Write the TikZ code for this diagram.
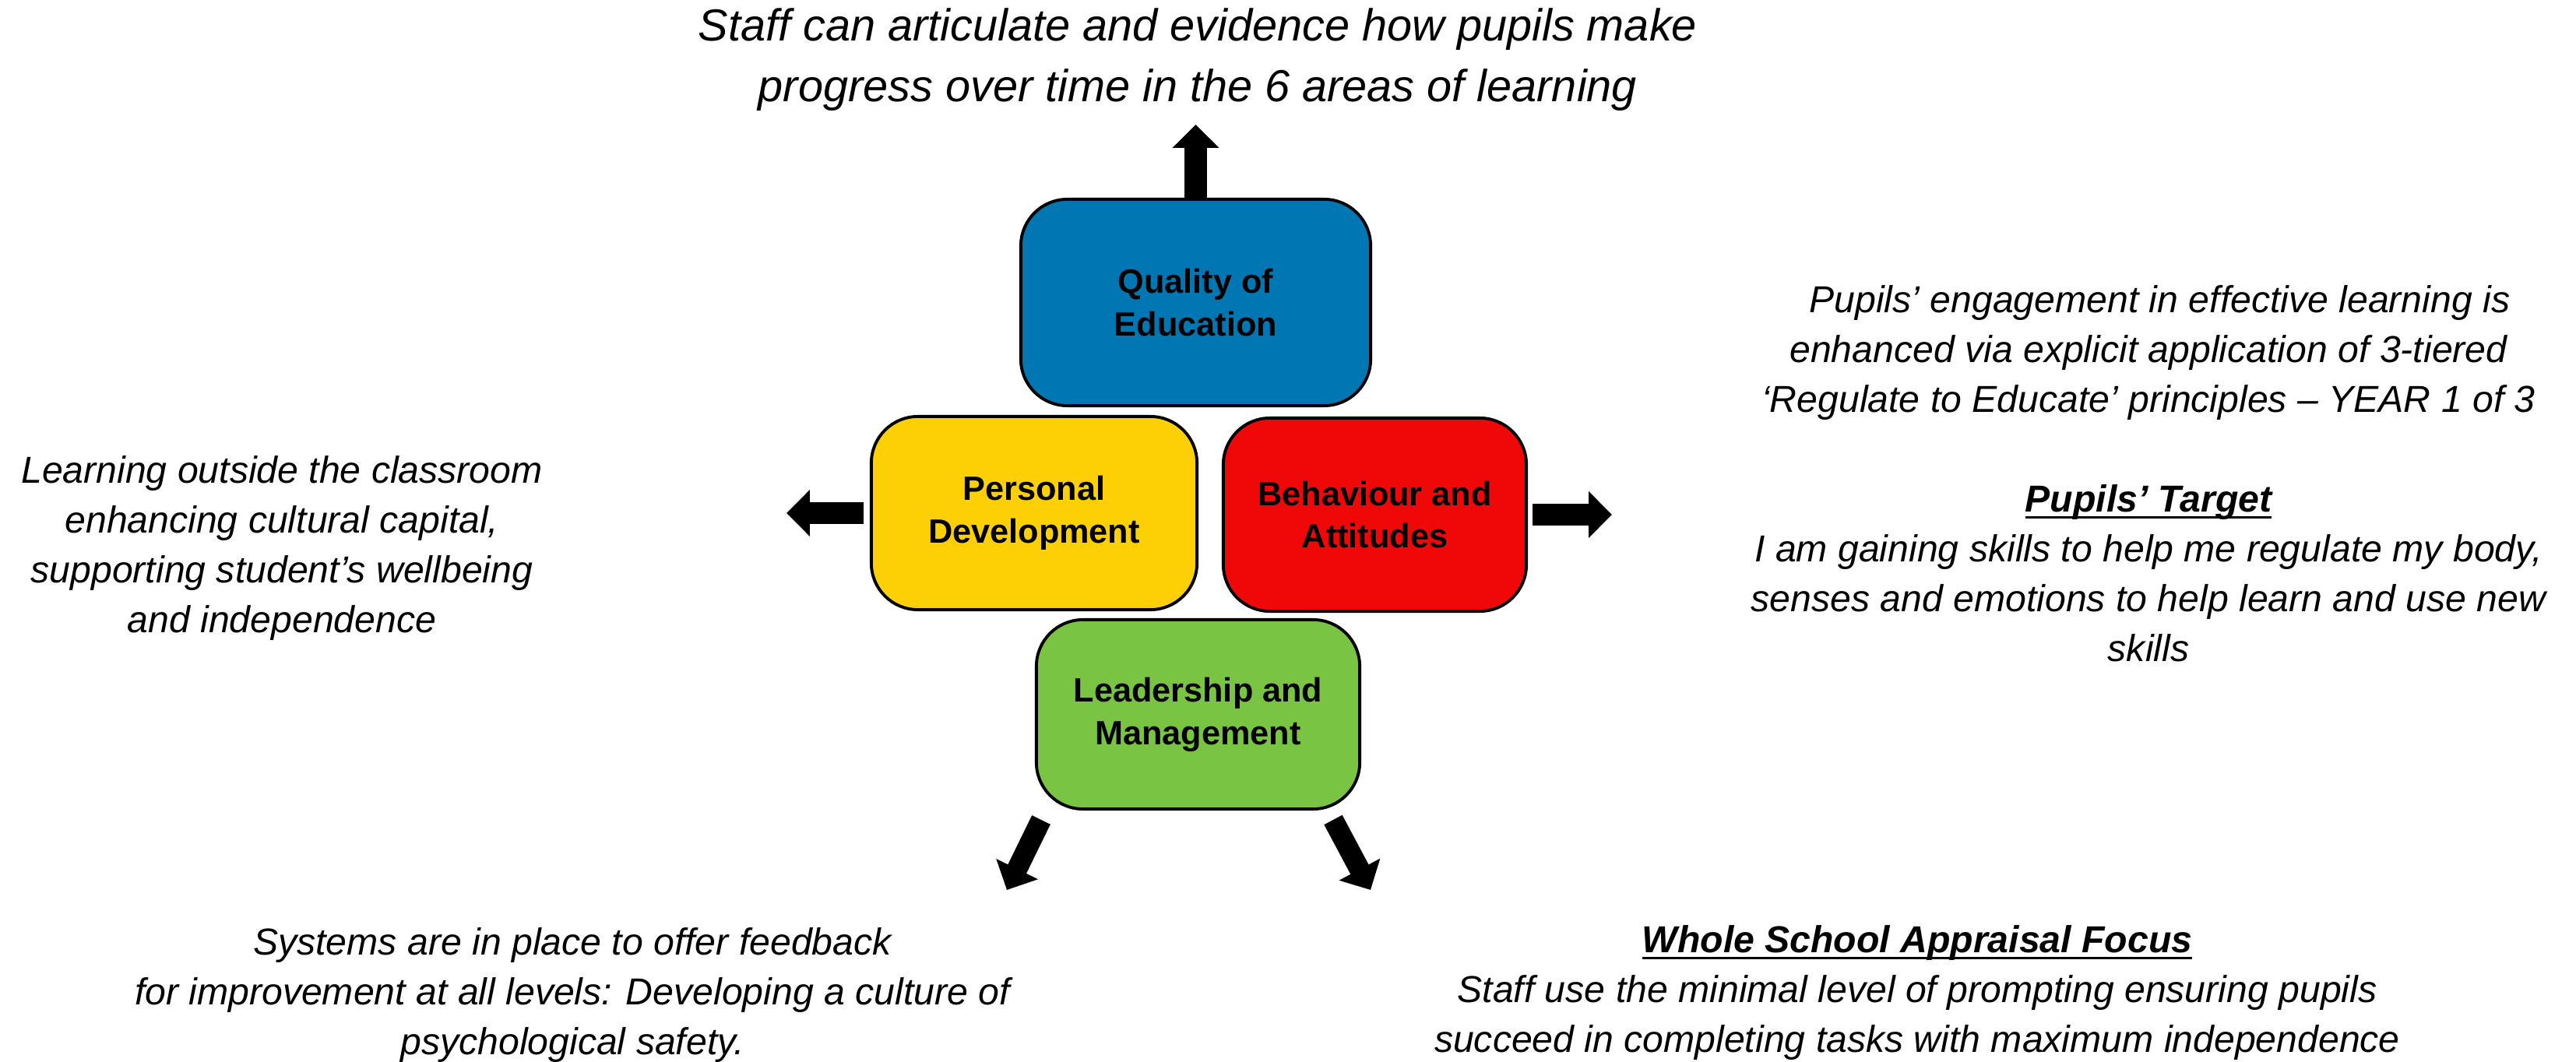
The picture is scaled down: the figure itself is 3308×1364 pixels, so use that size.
\documentclass[tikz,border=0pt]{standalone}
\usepackage{fontspec}
\setmainfont{Liberation Sans}
\usetikzlibrary{arrows.meta}
\definecolor{qblue}{RGB}{0,118,178}
\definecolor{pyellow}{RGB}{252,208,5}
\definecolor{bred}{RGB}{240,7,7}
\definecolor{lgreen}{RGB}{121,196,66}
\newlength\ulwidth
\newcommand{\thickul}[1]{\settowidth{\ulwidth}{#1}\rlap{\rule[-2.4pt]{\ulwidth}{0.8pt}}#1}
\begin{document}
\begin{tikzpicture}[x=0.01cm,y=-0.01cm,
  area/.style={draw=black, line width=1.1pt, rounded corners=17pt, inner sep=0pt,
    font=\fontsize{12.3}{15.6}\selectfont\bfseries, align=center},
  lbl/.style={inner sep=0pt, align=center, font=\fontsize{13.7}{18.2}\selectfont\itshape},
  toplbl/.style={inner sep=0pt, align=center, font=\fontsize{16.4}{22.2}\selectfont\itshape},
  blockarrow/.style={line width=8pt, -{Triangle[width=16.5pt,length=8.5pt]}},
]
\useasboundingbox (0,0) rectangle (3308,1364);

% central boxes
\node[area, fill=qblue, minimum width=4.49cm, minimum height=2.65cm] (q) at (1535.5,388.5) {Quality of\\Education};
\node[area, fill=pyellow, minimum width=4.18cm, minimum height=2.48cm] (p) at (1328,659) {Personal\\Development};
\node[area, fill=bred, minimum width=3.89cm, minimum height=2.48cm] (b) at (1765.5,661) {Behaviour and\\Attitudes};
\node[area, fill=lgreen, minimum width=4.15cm, minimum height=2.43cm] (l) at (1538.5,917.5) {Leadership and\\Management};

% texts
\node[toplbl] (top) at (1538,77) {Staff can articulate and evidence how pupils make\\progress over time in the 6 areas of learning};
\node[lbl] (right) at (2759,608) {\hspace*{0.6em}Pupils’ engagement in effective learning is\\enhanced via explicit application of 3-tiered\\‘Regulate to Educate’ principles – YEAR 1 of 3\\[18.2pt]\thickul{\textbf{Pupils’ Target}}\\I am gaining skills to help me regulate my body,\\senses and emotions to help learn and use new\\skills};
\node[lbl] (left) at (362,704) {Learning outside the classroom\\enhancing cultural capital,\\supporting student’s wellbeing\\and independence};
\node[lbl] (bl) at (735,1278) {Systems are in place to offer feedback\\for improvement at all levels: Developing a culture of\\psychological safety.};
\node[lbl] (br) at (2462,1275) {\thickul{\textbf{Whole School Appraisal Focus}}\\Staff use the minimal level of prompting ensuring pupils\\succeed in completing tasks with maximum independence};

% arrow end points
\coordinate (tq) at (1535.5,160);
\coordinate (tp) at (1010,659);
\coordinate (tb) at (2070,661);
\coordinate (sl) at (1337,1053);
\coordinate (tl) at (1293,1143);
\coordinate (sr) at (1712,1053);
\coordinate (tr) at (1760,1143);

% arrows
\draw[blockarrow] (q.north) -- (tq);
\draw[blockarrow, shorten <=2.3pt] (p.west) -- (tp);
\draw[blockarrow, shorten <=1.7pt] (b.east) -- (tb);
\draw[blockarrow, line width=7.5pt] (sl) -- (tl);
\draw[blockarrow, line width=7.5pt] (sr) -- (tr);
\end{tikzpicture}
\end{document}
